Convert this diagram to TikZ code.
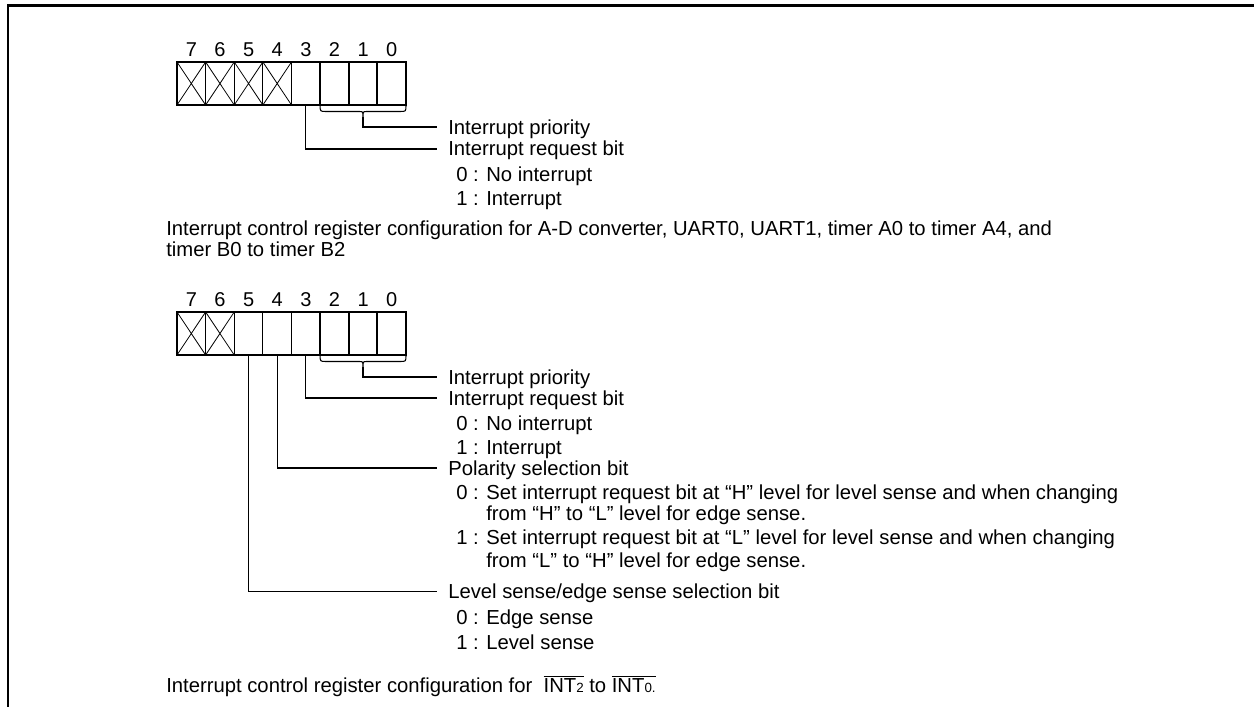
\documentclass[tikz,border=0pt]{standalone}
\usepackage{fontspec}
\setmainfont{Liberation Sans}
\newcommand\regbox[3]{% #1 prefix, #2 top y, #3 lowest crossed bit
  \foreach \b in {0,...,7}{
    \node[cellbox] (#1\b) at ({177+(7-\b+0.5)*28.625},{#2+21.5}) {};
    \node[bitnum] (#1n\b) at ({177+(7-\b+0.5)*28.625},{#2-12}) {\b};
    \ifnum\b<#3\relax\else
      \draw[thinline] (#1\b.north west) -- (#1\b.south east) (#1\b.south west) -- (#1\b.north east);
    \fi
  }
  \draw[thickline] (#17.north west) rectangle (#10.south east);
  \draw[thickline] (#12.north west) -- (#12.south west) (#11.north west) -- (#11.south west) (#10.north west) -- (#10.south west);
  \draw[lead] (#12.south west) .. controls ++(0,6.5) .. ++(6,6.5) -- ({363-4},{#2+49.5})
     .. controls (363,{#2+49.5}) .. (363,{#2+55}) coordinate (#1tip)
     .. controls (363,{#2+49.5}) .. ({363+4},{#2+49.5}) -- ({406-6},{#2+49.5})
     .. controls (406,{#2+49.5}) .. (#10.south east);
}
\newcommand\ovl[1]{$\overline{\mbox{#1}}$}
\begin{document}
\begin{tikzpicture}[x=0.75pt,y=-0.75pt,
  cellbox/.style={minimum width=21.47pt, minimum height=32.25pt, inner sep=0pt, outer sep=0pt, draw, line width=0.75pt},
  thinline/.style={line width=0.6pt},
  thickline/.style={line width=1.5pt},
  lead/.style={line width=0.8pt},
  lbl/.style={anchor=base west, inner sep=0pt, font=\fontsize{15.2}{18}\selectfont},
  bitnum/.style={anchor=center, inner sep=0pt, font=\fontsize{15}{18}\selectfont}]
\useasboundingbox (0,0) rectangle (1254,707);
\draw[line width=2pt] (8,707) -- (8,5.5) -- (1254,5.5);

% ---------- first register ----------
\regbox{ra}{62}{4}
\coordinate (raep) at (437,127);
\coordinate (raeq) at (437,149);
\draw[lead] (ratip) |- (raep);
\draw[lead] (ra3.south) |- (raeq);
\node[lbl] (ta1) at (448,134) {Interrupt priority};
\node[lbl] (ta2) at (448,155) {Interrupt request bit};
\node[lbl] (ta3) at (456,181) {0 : No interrupt};
\node[lbl] (ta4) at (456,205) {1 : Interrupt};
\node[lbl] (cap1) at (166,235) {Interrupt control register configuration for A-D converter, UART0, UART1, timer A0 to timer A4, and};
\node[lbl] (cap2) at (166,256) {timer B0 to timer B2};

% ---------- second register ----------
\regbox{rb}{312}{6}
\coordinate (rbep) at (437,377);
\coordinate (rbeq) at (437,398);
\coordinate (rbepol) at (437,468);
\coordinate (rbelev) at (437,591.5);
\draw[lead] (rbtip) |- (rbep);
\draw[lead] (rb3.south) |- (rbeq);
\draw[lead] (rb4.south) |- (rbepol);
\draw[lead] (rb5.south) |- (rbelev);
\node[lbl] (tb1) at (448,384) {Interrupt priority};
\node[lbl] (tb2) at (448,405) {Interrupt request bit};
\node[lbl] (tb3) at (456,430) {0 : No interrupt};
\node[lbl] (tb4) at (456,454) {1 : Interrupt};
\node[lbl] (tb5) at (448,475) {Polarity selection bit};
\node[lbl] (tb6) at (456,499) {0 : Set interrupt request bit at “H” level for level sense and when changing};
\node[lbl] (tb7) at (456,520) {\hphantom{0 : }from “H” to “L” level for edge sense.};
\node[lbl] (tb8) at (456,544) {1 : Set interrupt request bit at “L” level for level sense and when changing};
\node[lbl] (tb9) at (456,567) {\hphantom{1 : }from “L” to “H” level for edge sense.};
\node[lbl] (tb10) at (448,598) {Level sense/edge sense selection bit};
\node[lbl] (tb11) at (456,624) {0 : Edge sense};
\node[lbl] (tb12) at (456,649) {1 : Level sense};
\node[lbl] (cap3) at (166,692) {Interrupt control register configuration for \ \ovl{INT{\fontsize{10}{12}\selectfont 2}} to \ovl{INT{\fontsize{10}{12}\selectfont 0.}}};
\end{tikzpicture}
\end{document}
